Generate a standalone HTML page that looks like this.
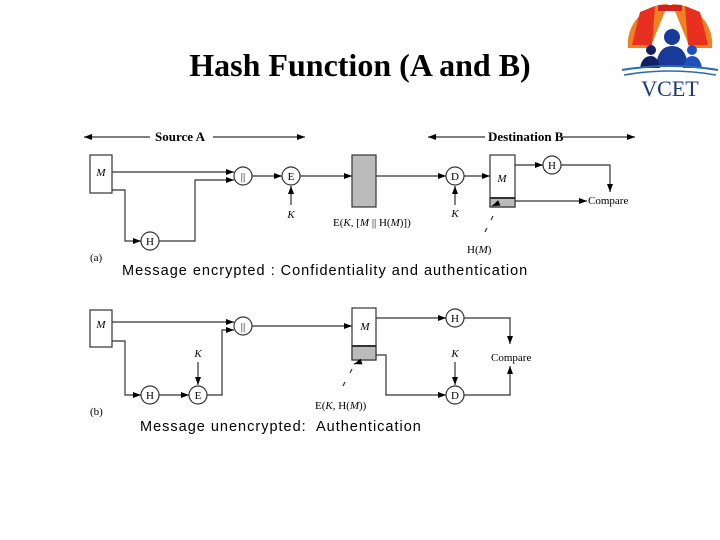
<!DOCTYPE html>
<html><head><style>
body{margin:0;width:720px;height:540px;background:#fff;overflow:hidden;position:relative}
.t{position:absolute;left:0;width:720px;text-align:center;top:47px;font:bold 32px "Liberation Serif",serif;color:#000}
.c{position:absolute;font:15px "Liberation Sans",sans-serif;color:#000;white-space:nowrap}
</style></head><body>
<div class="t" style="left:0;width:720px">Hash Function (A and B)</div>
<div class="c" style="left:122px;top:263px;font-size:14.5px;letter-spacing:1px">Message encrypted : Confidentiality and authentication</div>
<div class="c" style="left:140px;top:419px;font-size:14.5px;letter-spacing:1px">Message unencrypted:&nbsp; Authentication</div>
<svg width="720" height="540" style="position:absolute;left:0;top:0" font-family="Liberation Serif, serif" font-size="11">
<defs><marker id="a" markerWidth="8" markerHeight="6" refX="8" refY="3" orient="auto" markerUnits="userSpaceOnUse"><path d="M0,0L8,3L0,6z" fill="#000"/></marker></defs>
<g stroke="#333" stroke-width="1.2" fill="none">
<line x1="150" y1="137" x2="84" y2="137" marker-end="url(#a)"/>
<line x1="213" y1="137" x2="305" y2="137" marker-end="url(#a)"/>
<line x1="485" y1="137" x2="428" y2="137" marker-end="url(#a)"/>
<line x1="562" y1="137" x2="635" y2="137" marker-end="url(#a)"/>
<rect x="90" y="155" width="22" height="38" fill="#fff"/>
<line x1="112" y1="172" x2="234" y2="172" marker-end="url(#a)"/>
<polyline points="112,190 125,190 125,241 141,241" marker-end="url(#a)"/>
<polyline points="159,241 195,241 195,180 234,180" marker-end="url(#a)"/>
<circle cx="150" cy="241" r="9" fill="#fff"/>
<circle cx="243" cy="176" r="9" fill="#fff"/>
<line x1="252" y1="176" x2="282" y2="176" marker-end="url(#a)"/>
<circle cx="291" cy="176" r="9" fill="#fff"/>
<line x1="291" y1="205" x2="291" y2="186" marker-end="url(#a)"/>
<line x1="300" y1="176" x2="352" y2="176" marker-end="url(#a)"/>
<rect x="352" y="155" width="24" height="52" fill="#bbb"/>
<line x1="376" y1="176" x2="446" y2="176" marker-end="url(#a)"/>
<circle cx="455" cy="176" r="9" fill="#fff"/>
<line x1="455" y1="205" x2="455" y2="186" marker-end="url(#a)"/>
<line x1="464" y1="176" x2="490" y2="176" marker-end="url(#a)"/>
<rect x="490" y="155" width="25" height="52" fill="#fff"/>
<rect x="490" y="198" width="25" height="9" fill="#bbb"/>
<line x1="490" y1="198" x2="515" y2="198" stroke-width="2" stroke="#333"/>
<line x1="515" y1="165" x2="543" y2="165" marker-end="url(#a)"/>
<circle cx="552" cy="165" r="9" fill="#fff"/>
<polyline points="561,165 610,165 610,192" marker-end="url(#a)"/>
<line x1="515" y1="201" x2="587" y2="201" marker-end="url(#a)"/>
<line x1="493" y1="216" x2="491" y2="220"/><line x1="487" y1="228" x2="485" y2="232"/>
<path d="M499,203 L492,206" marker-end="url(#a)"/>
<rect x="90" y="310" width="22" height="37" fill="#fff"/>
<line x1="112" y1="322" x2="234" y2="322" marker-end="url(#a)"/>
<polyline points="112,341 125,341 125,395 141,395" marker-end="url(#a)"/>
<circle cx="150" cy="395" r="9" fill="#fff"/>
<line x1="159" y1="395" x2="189" y2="395" marker-end="url(#a)"/>
<circle cx="198" cy="395" r="9" fill="#fff"/>
<line x1="198" y1="362" x2="198" y2="385" marker-end="url(#a)"/>
<polyline points="207,395 222,395 222,330 234,330" marker-end="url(#a)"/>
<circle cx="243" cy="326" r="9" fill="#fff"/>
<line x1="252" y1="326" x2="352" y2="326" marker-end="url(#a)"/>
<rect x="352" y="308" width="24" height="52" fill="#fff"/>
<rect x="352" y="346" width="24" height="14" fill="#bbb"/>
<line x1="352" y1="346" x2="376" y2="346" stroke-width="2"/>
<line x1="376" y1="318" x2="446" y2="318" marker-end="url(#a)"/>
<circle cx="455" cy="318" r="9" fill="#fff"/>
<polyline points="464,318 510,318 510,344" marker-end="url(#a)"/>
<polyline points="376,355 386,355 386,395 446,395" marker-end="url(#a)"/>
<circle cx="455" cy="395" r="9" fill="#fff"/>
<line x1="455" y1="362" x2="455" y2="385" marker-end="url(#a)"/>
<polyline points="464,395 510,395 510,366" marker-end="url(#a)"/>
<line x1="352" y1="369" x2="350" y2="373"/><line x1="345" y1="382" x2="343" y2="386"/>
<path d="M360,362 L354,364" marker-end="url(#a)"/>
</g>
<g fill="#000">
<text x="155" y="141" font-size="13" font-weight="bold">Source A</text>
<text x="488" y="141" font-size="13" font-weight="bold">Destination B</text>
<text x="101" y="176" text-anchor="middle" font-style="italic">M</text>
<text x="150" y="245" text-anchor="middle">H</text>
<text x="243" y="180" text-anchor="middle">||</text>
<text x="291" y="180" text-anchor="middle">E</text>
<text x="291" y="218" text-anchor="middle" font-style="italic">K</text>
<text x="333" y="226">E(<tspan font-style="italic">K</tspan>, [<tspan font-style="italic">M</tspan> || H(<tspan font-style="italic">M</tspan>)])</text>
<text x="455" y="180" text-anchor="middle">D</text>
<text x="455" y="217" text-anchor="middle" font-style="italic">K</text>
<text x="502" y="182" text-anchor="middle" font-style="italic">M</text>
<text x="552" y="169" text-anchor="middle">H</text>
<text x="588" y="204">Compare</text>
<text x="467" y="253">H(<tspan font-style="italic">M</tspan>)</text>
<text x="90" y="261">(a)</text>
<text x="101" y="328" text-anchor="middle" font-style="italic">M</text>
<text x="150" y="399" text-anchor="middle">H</text>
<text x="198" y="399" text-anchor="middle">E</text>
<text x="198" y="357" text-anchor="middle" font-style="italic">K</text>
<text x="243" y="330" text-anchor="middle">||</text>
<text x="365" y="330" text-anchor="middle" font-style="italic">M</text>
<text x="455" y="322" text-anchor="middle">H</text>
<text x="455" y="399" text-anchor="middle">D</text>
<text x="455" y="357" text-anchor="middle" font-style="italic">K</text>
<text x="491" y="361">Compare</text>
<text x="315" y="409">E(<tspan font-style="italic">K</tspan>, H(<tspan font-style="italic">M</tspan>))</text>
<text x="90" y="415">(b)</text>
</g>
<g>
<path d="M668,4 A40,40 0 0 0 628,48 L650,48 Z" fill="#f08020"/>
<path d="M672,4 A40,40 0 0 1 712,48 L690,48 Z" fill="#f08020"/>
<path d="M640,12 L655,6 L652,45 L632,45 Z" fill="#e83020"/>
<path d="M700,12 L685,6 L688,45 L708,45 Z" fill="#e83020"/>
<rect x="658" y="5" width="24" height="6" fill="#d02020"/>
<circle cx="672" cy="37" r="8" fill="#1a3a9a"/>
<path d="M656,66 Q658,46 672,46 Q686,46 688,66 Z" fill="#1a3a9a"/>
<circle cx="651" cy="50" r="5" fill="#102060"/>
<path d="M640,68 Q642,56 651,56 Q658,56 660,68 Z" fill="#102060"/>
<circle cx="692" cy="50" r="5" fill="#2050c0"/>
<path d="M683,68 Q685,56 692,56 Q700,56 702,68 Z" fill="#2050c0"/>
<path d="M622,70 Q670,62 718,70" stroke="#2a6ab0" stroke-width="2" fill="none"/>
<path d="M624,75 Q670,67 716,75" stroke="#2a6ab0" stroke-width="1.5" fill="none"/>
<text x="670" y="96" text-anchor="middle" font-size="22" fill="#1a3a7a" font-family="Liberation Serif, serif">VCET</text>
</g>
</svg>
</body></html>
